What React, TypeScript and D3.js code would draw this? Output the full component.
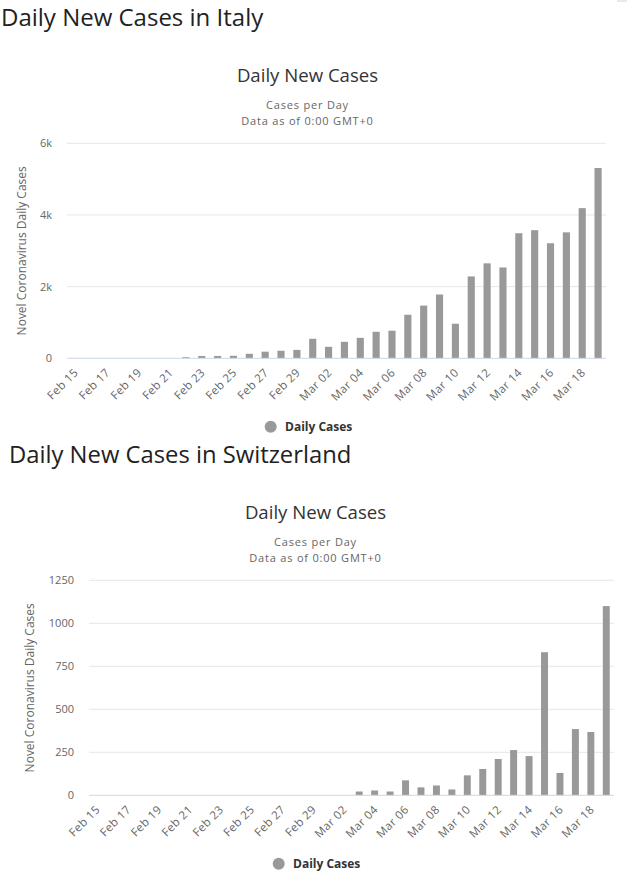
import React from "react";
import * as d3 from "d3";

const categories = [
  "Feb 15", "Feb 16", "Feb 17", "Feb 18", "Feb 19", "Feb 20", "Feb 21", "Feb 22",
  "Feb 23", "Feb 24", "Feb 25", "Feb 26", "Feb 27", "Feb 28", "Feb 29",
  "Mar 01", "Mar 02", "Mar 03", "Mar 04", "Mar 05", "Mar 06", "Mar 07", "Mar 08",
  "Mar 09", "Mar 10", "Mar 11", "Mar 12", "Mar 13", "Mar 14", "Mar 15", "Mar 16",
  "Mar 17", "Mar 18", "Mar 19",
];

const italyCases = [
  0, 0, 0, 0, 0, 0, 0, 30, 65, 65, 70, 125, 185, 210, 235,
  545, 320, 460, 570, 740, 770, 1215, 1470, 1780, 965, 2285, 2650, 2535,
  3490, 3575, 3210, 3515, 4190, 5310,
];

const swissCases = [
  0, 0, 0, 0, 0, 0, 0, 0, 0, 0, 0, 0, 0, 0, 0,
  0, 0, 22, 28, 22, 87, 46, 57, 34, 116, 153, 211, 263,
  228, 832, 130, 385, 368, 1100,
];

const italyTicks = [0, 2000, 4000, 6000];
const italyTickLabels = ["0", "2k", "4k", "6k"];
const swissTicks = [0, 250, 500, 750, 1000, 1250];
const swissTickLabels = ["0", "250", "500", "750", "1000", "1250"];

const FONT = "'Open Sans', 'DejaVu Sans', sans-serif";

type ChartProps = {
  heading: string;
  headingSize: number;
  ox: number;
  oy: number;
  left: number;
  right: number;
  values: number[];
  ticks: number[];
  tickLabels: string[];
  yMax: number;
};

function Chart({ heading, headingSize, ox, oy, left, right, values, ticks, tickLabels, yMax }: ChartProps) {
  const top = 143.3 + oy;
  const bottom = 358.3 + oy;
  const x = d3.scaleBand<string>().domain(categories).range([left, right]).padding(0);
  const y = d3.scaleLinear().domain([0, yMax]).range([bottom, top]);
  const bw = x.step() * 0.45;
  const cx = 307.5 + ox;
  return (
    <g>
      <text x={ox + 1} y={26 + oy} fontSize={headingSize} fill="#222" fontFamily={FONT}>
        {heading}
      </text>
      <text x={cx} y={82 + oy} fontSize={18.6} fill="#333" textAnchor="middle" fontFamily={FONT}>
        Daily New Cases
      </text>
      <text x={cx} y={109 + oy} fontSize={11} fill="#666" textAnchor="middle" letterSpacing={0.8} fontFamily={FONT}>
        Cases per Day
      </text>
      <text x={cx} y={124.8 + oy} fontSize={11} fill="#666" textAnchor="middle" letterSpacing={0.8} fontFamily={FONT}>
        Data as of 0:00 GMT+0
      </text>
      {ticks.map((t, i) => (
        <g key={t}>
          {t !== 0 && (
            <line x1={left} x2={right} y1={y(t)} y2={y(t)} stroke="#e6e6e6" strokeWidth={1} />
          )}
          <text
            x={left - 15}
            y={y(t) + 4}
            fontSize={11}
            fill="#666"
            textAnchor="end"
            fontFamily={FONT}
          >
            {tickLabels[i]}
          </text>
        </g>
      ))}
      <text
        transform={`translate(${ox + 26},${(top + bottom) / 2}) rotate(-90)`}
        fontSize={12}
        fill="#666"
        textAnchor="middle"
        fontFamily={FONT}
      >
        Novel Coronavirus Daily Cases
      </text>
      {values.map((v, i) => {
        const c = categories[i];
        const xc = (x(c) as number) + x.step() / 2;
        return v > 0 ? (
          <rect key={c} x={xc - bw / 2} y={y(v)} width={bw} height={bottom - y(v)} fill="#999999" />
        ) : null;
      })}
      <line x1={left} x2={right} y1={bottom} y2={bottom} stroke="#ccd6eb" strokeWidth={1} />
      {categories.map((c, i) => {
        if (i % 2 !== 0) return null;
        const xc = (x(c) as number) + x.step() / 2;
        return (
          <text
            key={c}
            transform={`translate(${xc + 4},${bottom + 15}) rotate(-45)`}
            fontSize={11.5}
            fill="#666"
            textAnchor="end"
            letterSpacing={0.4}
            fontFamily={FONT}
          >
            {c}
          </text>
        );
      })}
      <circle cx={270.7 + ox} cy={426.7 + oy} r={6} fill="#999999" />
      <text x={285 + ox} y={431 + oy} fontSize={12} fontWeight="bold" fill="#333" fontFamily={FONT}>
        Daily Cases
      </text>
    </g>
  );
}

export default function App() {
  return (
    <svg
      width={641}
      height={883}
      style={{ position: "absolute", left: 0, top: 0, background: "#fff" }}
    >
      <rect x={617} y={0} width={10} height={2} fill="#e6e9ee" />
      <Chart
        heading="Daily New Cases in Italy"
        headingSize={24}
        ox={0}
        oy={0}
        left={67}
        right={606}
        values={italyCases}
        ticks={italyTicks}
        tickLabels={italyTickLabels}
        yMax={6000}
      />
      <Chart
        heading="Daily New Cases in Switzerland"
        headingSize={23.8}
        ox={8}
        oy={437}
        left={89}
        right={614}
        values={swissCases}
        ticks={swissTicks}
        tickLabels={swissTickLabels}
        yMax={1250}
      />
    </svg>
  );
}
